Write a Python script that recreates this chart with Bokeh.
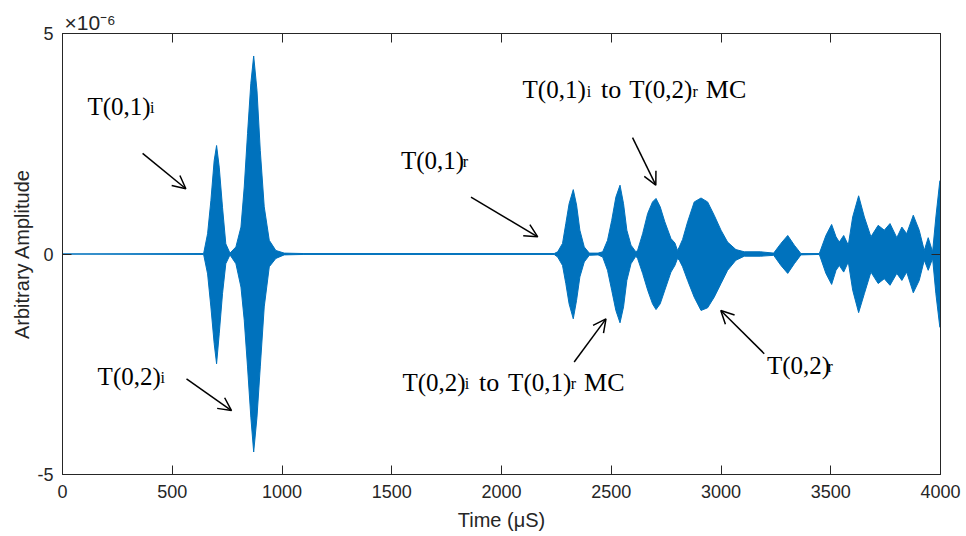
from bokeh.plotting import figure
from bokeh.models import (Range1d, FixedTicker, LinearAxis, Label, Arrow,
                          OpenHead, ColumnDataSource)
from bokeh.embed import file_html
from bokeh.resources import INLINE

# ---------------- data ----------------
# envelope of the recorded signal, amplitude in units of 1e-6
time_us = [0, 643, 661, 676, 691, 702, 714, 729, 744, 763,
           790, 813, 828, 843, 858, 871, 886, 901, 919, 942, 972, 1010, 1100,
           2240, 2256, 2278, 2293, 2308, 2327, 2342, 2357, 2377, 2400,
           2440, 2461, 2483, 2502, 2521, 2540, 2556, 2571, 2590, 2612,
           2620, 2643, 2666, 2688, 2704, 2723, 2744, 2772, 2790, 2802,
           2810, 2825, 2848, 2878, 2909, 2939, 2969, 3000, 3030, 3068, 3106,
           3180, 3240, 3273, 3304, 3334, 3364,
           3448, 3478, 3504, 3524, 3539, 3559, 3580, 3600, 3627, 3653, 3683,
           3716, 3744, 3770, 3801, 3824, 3846, 3876, 3903, 3926, 3944, 3964,
           3979, 3997, 4000]
amp_upper = [0.0, 0.01, 0.46, 1.21, 2.12, 2.46, 1.97, 1.06, 0.23, 0.02,
             0.16, 0.61, 1.52, 2.73, 3.87, 4.49, 3.71, 2.35, 1.07, 0.31, 0.08, 0.02, 0.01,
             0.01, 0.05, 0.24, 0.69, 1.14, 1.46, 1.11, 0.54, 0.16, 0.02,
             0.02, 0.05, 0.31, 0.76, 1.29, 1.56, 1.14, 0.54, 0.20, 0.05,
             0.08, 0.46, 0.92, 1.18, 1.26, 1.07, 0.73, 0.35, 0.25, 0.08,
             0.16, 0.33, 0.73, 1.18, 1.27, 1.18, 0.88, 0.54, 0.27, 0.10, 0.05,
             0.05, 0.02, 0.24, 0.42, 0.20, 0.01,
             0.01, 0.42, 0.67, 0.39, 0.27, 0.42, 0.20, 0.84, 1.32, 0.84, 0.39,
             0.65, 0.54, 0.69, 0.37, 0.61, 0.46, 0.88, 0.54, 0.08, 0.37, 0.05,
             0.84, 1.66, 1.66]
amp_lower = [0.0, -0.01, -0.45, -1.20, -2.03, -2.49, -1.81, -0.90, -0.22, -0.02,
             -0.22, -0.75, -1.50, -2.56, -3.70, -4.49, -3.70, -2.56, -1.20, -0.29, -0.10, -0.02, -0.01,
             -0.01, -0.07, -0.26, -0.67, -1.13, -1.47, -1.05, -0.52, -0.18, -0.03,
             -0.02, -0.07, -0.37, -0.82, -1.28, -1.56, -1.20, -0.60, -0.22, -0.05,
             -0.10, -0.44, -0.82, -1.13, -1.26, -1.13, -0.82, -0.41, -0.26, -0.10,
             -0.14, -0.29, -0.60, -0.98, -1.28, -1.22, -0.98, -0.67, -0.37, -0.14, -0.05,
             -0.05, -0.03, -0.26, -0.44, -0.22, -0.02,
             -0.01, -0.44, -0.69, -0.37, -0.26, -0.41, -0.18, -0.82, -1.33, -0.90, -0.41,
             -0.67, -0.56, -0.71, -0.44, -0.60, -0.41, -0.88, -0.60, -0.14, -0.37, -0.10,
             -0.90, -1.66, -1.66]

x_ticks = [0, 500, 1000, 1500, 2000, 2500, 3000, 3500, 4000]
y_ticks = [-5, 0, 5]
y_tick_text = {-5: "-5", 0: "0", 5: "5"}

# ---------------- styling ----------------
BLUE = "#0072BD"
AX = "#262626"
SANS = "Liberation Sans"
SERIF = "Liberation Serif"

p = figure(width=966, height=536, output_backend="svg", toolbar_location=None,
           x_range=Range1d(0, 4000), y_range=Range1d(-5, 5),
           min_border_left=62, min_border_right=26,
           min_border_top=33, min_border_bottom=62)
p.background_fill_color = "white"
p.border_fill_color = "white"
p.outline_line_color = AX
p.outline_line_width = 1
p.xgrid.visible = False
p.ygrid.visible = False

# exponent of the y axis, shown as a left-aligned title
p.title.text = "×10⁻⁶"
p.title.align = "left"
p.title.offset = 2
p.title.standoff = 0
p.title.text_font = SANS
p.title.text_font_size = "21px"
p.title.text_font_style = "normal"
p.title.text_color = AX

src = ColumnDataSource(dict(t=time_us, hi=amp_upper, lo=amp_lower))
p.varea(x="t", y1="lo", y2="hi", source=src, fill_color=BLUE)
p.line("t", "hi", source=src, line_color=BLUE, line_width=1)
p.line("t", "lo", source=src, line_color=BLUE, line_width=1)


def style_axis(ax, ticks, show_labels):
    ax.ticker = FixedTicker(ticks=ticks)
    ax.major_tick_in = 9
    ax.major_tick_out = 0
    ax.minor_tick_line_color = None
    ax.axis_line_color = AX
    ax.major_tick_line_color = AX
    ax.major_label_text_font = SANS
    ax.major_label_text_color = AX if show_labels else None
    ax.major_label_text_font_size = "18px" if show_labels else "1px"
    ax.axis_label_text_font = SANS
    ax.axis_label_text_color = AX
    ax.axis_label_text_font_size = "20px"
    ax.axis_label_text_font_style = "normal"


style_axis(p.xaxis[0], x_ticks, True)
style_axis(p.yaxis[0], y_ticks, True)
p.yaxis[0].major_label_overrides = y_tick_text
p.xaxis[0].axis_label = "Time (μS)"
p.xaxis[0].major_label_standoff = 10
p.xaxis[0].axis_label_standoff = 8
p.yaxis[0].axis_label = "Arbitrary Amplitude"
p.yaxis[0].major_label_standoff = 9
p.yaxis[0].axis_label_standoff = 1

top_ax = LinearAxis()
style_axis(top_ax, x_ticks, False)
top_ax.major_label_standoff = 0
p.add_layout(top_ax, "above")
right_ax = LinearAxis()
style_axis(right_ax, y_ticks, False)
right_ax.major_label_standoff = 0
p.add_layout(right_ax, "right")

# annotations: (x, y baseline, [(text, x offset px, is_subscript)])
annotations = [
    (114, 3.35, [("T(0,1)", 0, False), ("i", 62.5, True)]),
    (160, -2.775, [("T(0,2)", 0, False), ("i", 62.8, True)]),
    (1542, 2.126, [("T(0,1)", 0, False), ("r", 61.7, True)]),
    (2096, 3.726, [("T(0,1)", 0, False), ("i", 64.3, True), ("to", 78.5, False),
                   ("T(0,2)", 106.6, False), ("r", 170, True), ("MC", 183.3, False)]),
    (1549, -2.904, [("T(0,2)", 0, False), ("i", 62.3, True), ("to", 76.5, False),
                    ("T(0,1)", 105.6, False), ("r", 168.3, True), ("MC", 181.6, False)]),
    (3209, -2.526, [("T(0,2)", 0, False), ("r", 60.7, True)]),
]
for ax_, ay_, parts in annotations:
    for txt, dx, sub in parts:
        p.add_layout(Label(x=ax_, y=ay_, x_offset=dx, y_offset=-1.5 if sub else 0,
                           text=txt, text_font=SERIF,
                           text_font_size="16px" if sub else ("26px" if txt in ("to", "MC") else "25px"),
                           text_color="black", text_baseline="alphabetic",
                           text_align="left"))

arrows = [
    (365, 2.28, 562, 1.48),
    (565, -2.83, 770, -3.55),
    (1861, 1.29, 2165, 0.39),
    (2597, 2.64, 2703, 1.56),
    (2331, -2.45, 2476, -1.47),
    (3197, -2.26, 2999, -1.28),
]
for xs, ys, xe, ye in arrows:
    p.add_layout(Arrow(x_start=xs, y_start=ys, x_end=xe, y_end=ye,
                       line_color="black", line_width=1.5,
                       end=OpenHead(size=13, line_width=1.5, line_color="black")))

open("out.html", "w").write(file_html(p, INLINE))
